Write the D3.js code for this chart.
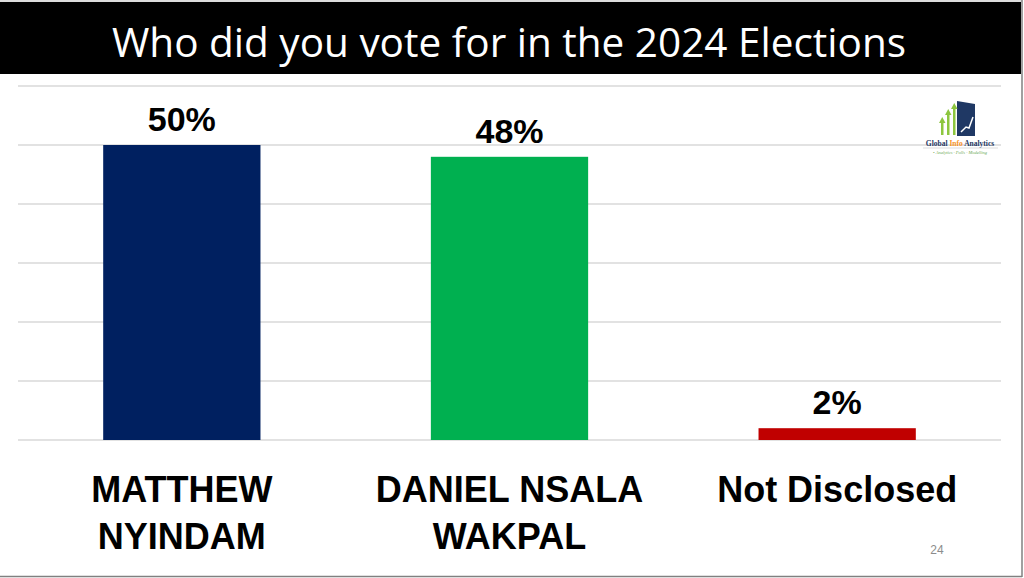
<!DOCTYPE html>
<html><head><meta charset="utf-8">
<script src="https://cdn.jsdelivr.net/npm/d3@7"></script>
<style>html,body{margin:0;padding:0;background:#fff;overflow:hidden}</style>
</head><body>
<svg id="c" width="1024" height="578"></svg>
<script>
const categories = [["MATTHEW","NYINDAM"],["DANIEL NSALA","WAKPAL"],["Not Disclosed"]];
const values = [50, 48, 2];
const valueLabels = ["50%", "48%", "2%"];
const colors = ["#002060", "#00B050", "#C00000"];
const yTicks = [0, 10, 20, 30, 40, 50, 60];
const title = "Who did you vote for in the 2024 Elections";

const svg = d3.select("#c");
// frame
svg.append("rect").attr("x",0).attr("y",0).attr("width",1024).attr("height",578).attr("fill","#fff");
svg.append("line").attr("x1",0).attr("x2",1022).attr("y1",1).attr("y2",1).attr("stroke","#d0d0d0").attr("stroke-width",1.5);
svg.append("line").attr("x1",1022).attr("x2",1022).attr("y1",0).attr("y2",577).attr("stroke","#808080").attr("stroke-width",1.5);
svg.append("line").attr("x1",0).attr("x2",1022).attr("y1",576.5).attr("y2",576.5).attr("stroke","#808080").attr("stroke-width",1.5);

// title band
svg.append("rect").attr("x",0).attr("y",2).attr("width",1021).attr("height",72).attr("fill","#000");
svg.append("text").attr("x",509).attr("y",57).attr("text-anchor","middle")
  .attr("font-family","'Open Sans', sans-serif").attr("font-size",40.5).attr("fill","#fff").text(title);

const x = d3.scaleBand().domain(d3.range(values.length)).range([18,1001]).paddingInner(0.52).paddingOuter(0.26);
const y = d3.scaleLinear().domain([0,60]).range([440,86]);

// gridlines
svg.append("g").selectAll("line").data(yTicks).join("line")
  .attr("x1",18).attr("x2",1001).attr("y1",d=>y(d)).attr("y2",d=>y(d))
  .attr("stroke","#d9d9d9").attr("stroke-width",1.5);

// bars
svg.append("g").selectAll("rect").data(values).join("rect")
  .attr("x",(d,i)=>x(i)).attr("width",x.bandwidth())
  .attr("y",d=>y(d)).attr("height",d=>y(0)-y(d)).attr("fill",(d,i)=>colors[i]);

// value labels
svg.append("g").selectAll("text").data(values).join("text")
  .attr("x",(d,i)=>x(i)+x.bandwidth()/2).attr("y",d=>y(d)-14)
  .attr("text-anchor","middle").attr("font-family","'Liberation Sans', Arial, sans-serif")
  .attr("font-weight","bold").attr("font-size",34).attr("fill","#000")
  .text((d,i)=>valueLabels[i]);

// category labels
const cg = svg.append("g").selectAll("text").data(categories).join("text")
  .attr("text-anchor","middle").attr("font-family","'Liberation Sans', Arial, sans-serif")
  .attr("font-weight","bold").attr("font-size",36).attr("fill","#000");
cg.selectAll("tspan").data((d,i)=>d.map(t=>({t,i}))).join("tspan")
  .attr("x",d=>x(d.i)+x.bandwidth()/2).attr("y",(d,j)=>502+j*47).text(d=>d.t);

// page number
svg.append("text").attr("x",937).attr("y",554).attr("text-anchor","middle")
  .attr("font-family","'Liberation Sans', Arial, sans-serif").attr("font-size",12).attr("fill","#8c8c8c").text("24");

// logo
const lg = svg.append("g");
lg.append("path").attr("d","M957,101 L975,104 L975,136 L957,136 Z").attr("fill","#1f3864");
lg.append("path").attr("d","M961,132 L966,127 L969,128 L973,117").attr("fill","none").attr("stroke","#fff").attr("stroke-width",1.5);
[[942,120],[948,112],[954,106]].forEach(([bx,by])=>{
  lg.append("rect").attr("x",bx-1).attr("y",by).attr("width",2.5).attr("height",135-by).attr("fill","#8dc63f");
  lg.append("path").attr("d",`M${bx-3},${by+3} L${bx+0.25},${by-3} L${bx+3.5},${by+3} Z`).attr("fill","#8dc63f");
});
lg.append("text").attr("x",960).attr("y",146).attr("text-anchor","middle")
  .attr("font-family","'Liberation Serif', serif").attr("font-weight","bold").attr("font-size",7.5).attr("fill","#1f3864")
  .html('Global <tspan fill="#f7931e">Info</tspan> Analytics');
lg.append("line").attr("x1",923).attr("x2",998).attr("y1",148).attr("y2",148).attr("stroke","#bbb").attr("stroke-width",0.5);
lg.append("text").attr("x",960).attr("y",154).attr("text-anchor","middle")
  .attr("font-family","'Liberation Serif', serif").attr("font-style","italic").attr("font-size",4.5).attr("fill","#6aa84f")
  .text("• Analytics · Polls · Modelling");
</script>
</body></html>
